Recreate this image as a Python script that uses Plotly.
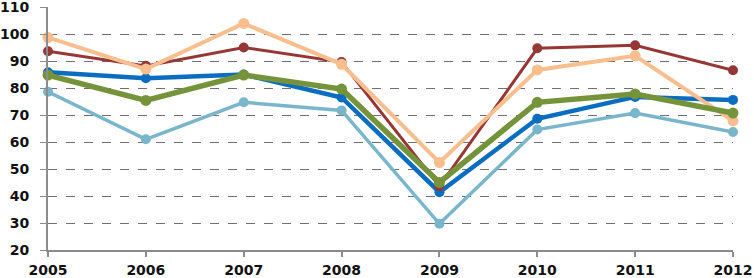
import plotly.graph_objects as go

years = [2005, 2006, 2007, 2008, 2009, 2010, 2011, 2012]
dark_red = [93.6, 88.2, 95.0, 89.6, 43.6, 94.7, 95.8, 86.6]
peach = [98.7, 87.0, 103.9, 88.8, 52.4, 86.7, 91.9, 67.8]
blue = [85.8, 83.6, 85.0, 76.5, 41.4, 68.6, 76.7, 75.6]
green = [84.8, 75.4, 84.8, 79.6, 45.0, 74.7, 77.8, 70.7]
light_blue = [78.6, 61.0, 74.7, 71.7, 29.7, 64.6, 70.7, 63.7]
y_ticks = [20, 30, 40, 50, 60, 70, 80, 90, 100, 110]

series = [
    ("Light blue", light_blue, "#79B5CB", 3.5, 10),
    ("Blue", blue, "#0A6DBF", 4.5, 10),
    ("Dark red", dark_red, "#953835", 3, 10),
    ("Peach", peach, "#F9BE8E", 4, 11),
    ("Green", green, "#75933A", 5.5, 11),
]

fig = go.Figure()
for name, vals, color, w, ms in series:
    fig.add_trace(go.Scatter(
        x=years, y=vals, name=name, mode="lines+markers",
        line=dict(color=color, width=w),
        marker=dict(color=color, size=ms),
        cliponaxis=False,
    ))

fig.update_layout(
    width=754, height=278,
    margin=dict(l=48, r=21, t=7, b=28, autoexpand=False),
    paper_bgcolor="white", plot_bgcolor="white",
    showlegend=False,
    font=dict(family="DejaVu Sans", size=14, color="#111111"),
)
fig.update_xaxes(
    range=[2005, 2012], tickvals=years, ticktext=[str(y) for y in years],
    showgrid=False, showline=True, linecolor="#8C8C8C", linewidth=2,
    ticks="outside", ticklen=5, tickcolor="#8C8C8C", tickwidth=1.5,
    ticklabelstandoff=1, ticklabeloverflow="allow",
    tickfont=dict(family="DejaVu Sans", size=14, color="#111111", weight="bold"),
    zeroline=False, automargin=False,
)
fig.update_yaxes(
    range=[20, 110], tickvals=y_ticks,
    showgrid=True, gridcolor="#707070", griddash="dash", gridwidth=1,
    showline=True, linecolor="#8C8C8C", linewidth=2,
    ticks="outside", ticklen=6, tickcolor="#8C8C8C",
    ticklabelstandoff=8, ticklabeloverflow="allow",
    tickfont=dict(family="DejaVu Sans", size=14, color="#111111", weight="bold"),
    zeroline=False, automargin=False,
)
fig.write_html(
    "out.html",
    config={"displayModeBar": False},
    post_script="document.body.style.margin='0';document.body.style.overflow='hidden';",
)
